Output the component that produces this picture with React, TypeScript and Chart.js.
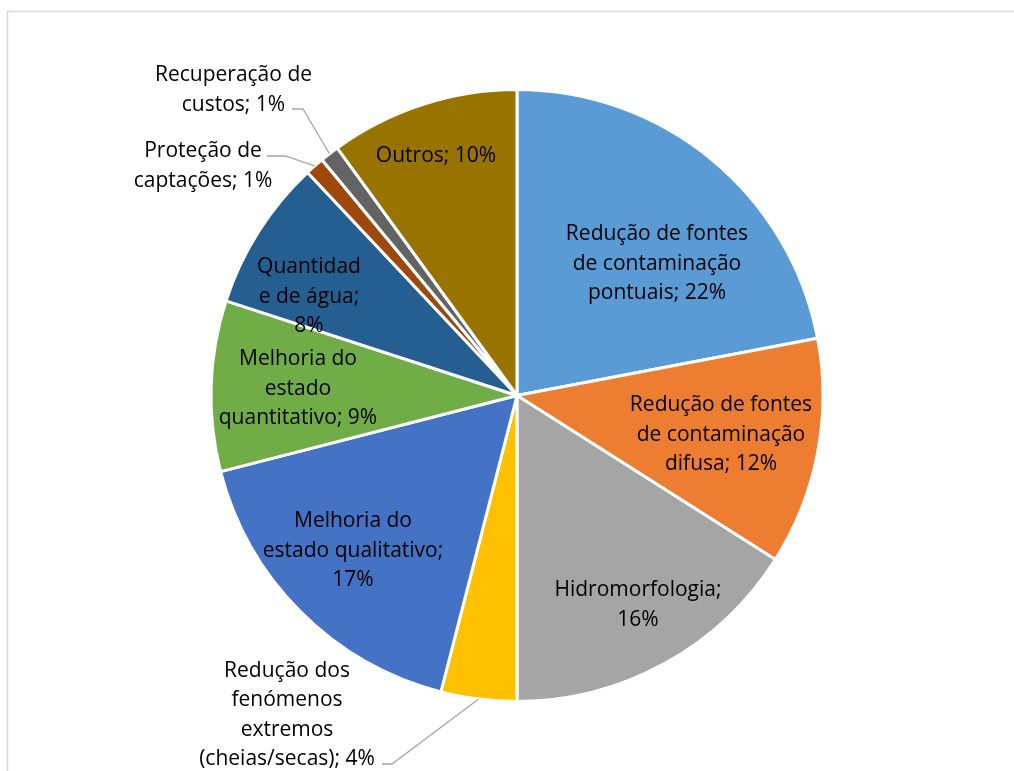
import React, { useEffect, useRef } from "react";
import { Chart, registerables } from "chart.js";

Chart.register(...registerables);

const categories: string[][] = [
  ["Redução de fontes", "de contaminação", "pontuais; 22%"],
  ["Redução de fontes", "de contaminação", "difusa; 12%"],
  ["Hidromorfologia;", "16%"],
  ["Redução dos", "fenómenos", "extremos", "(cheias/secas); 4%"],
  ["Melhoria do", "estado qualitativo;", "17%"],
  ["Melhoria do", "estado", "quantitativo; 9%"],
  ["Quantidad", "e de água;", "8%"],
  ["Proteção de", "captações; 1%"],
  ["Recuperação de", "custos; 1%"],
  ["Outros; 10%"],
];

const values: number[] = [22, 12, 16, 4, 17, 9, 8, 1, 1, 10];

const colors: string[] = [
  "#5B9BD5",
  "#ED7D31",
  "#A5A5A5",
  "#FFC000",
  "#4472C4",
  "#70AD47",
  "#255E91",
  "#9E480E",
  "#636363",
  "#997300",
];

// label block centre offsets from the pie centre
const labelOffsets: [number, number][] = [
  [140, -132.5],
  [204, 38.5],
  [121, 208.5],
  [-230, 318.5],
  [-164, 154.5],
  [-219, -7.5],
  [-208, -99.5],
  [-314, -230.5],
  [-283.5, -306.5],
  [-81, -240.5],
];

// leader line start + bend offsets (null = no leader)
const leaderOffsets: ([number, number, number] | null)[] = [
  null,
  null,
  null,
  [-135, -125, 368.5],
  null,
  null,
  null,
  [-250, -232, -239.5],
  [-225, -214, -286.5],
  null,
];

const FONT = '21px "Open Sans"';
const LINE_H = 29.5;

const labelPlugin = {
  id: "sliceLabels",
  afterDatasetsDraw(chart: any) {
    const ctx = chart.ctx;
    const meta = chart.getDatasetMeta(0);
    if (!meta.data.length) return;
    const a0 = meta.data[0];
    const cx = a0.x;
    const cy = a0.y;
    ctx.save();
    ctx.strokeStyle = "#A6A6A6";
    ctx.lineWidth = 1.3;
    meta.data.forEach((arc: any, i: number) => {
      const l = leaderOffsets[i];
      if (!l) return;
      const mid = (arc.startAngle + arc.endAngle) / 2;
      const r = arc.outerRadius;
      ctx.beginPath();
      ctx.moveTo(cx + l[0], cy + l[2]);
      ctx.lineTo(cx + l[1], cy + l[2]);
      ctx.lineTo(cx + Math.cos(mid) * r, cy + Math.sin(mid) * r);
      ctx.stroke();
    });
    ctx.fillStyle = "#000000";
    ctx.font = FONT;
    ctx.textAlign = "center";
    ctx.textBaseline = "middle";
    categories.forEach((lines, i) => {
      const [dx, dy] = labelOffsets[i];
      const n = lines.length;
      lines.forEach((t, j) => {
        const y = cy + dy + (j - (n - 1) / 2) * LINE_H;
        ctx.fillText(t, cx + dx, y + 1);
      });
    });
    ctx.restore();
  },
};

const framePlugin = {
  id: "frame",
  beforeDraw(chart: any) {
    const ctx = chart.ctx;
    ctx.save();
    ctx.fillStyle = "#ffffff";
    ctx.fillRect(0, 0, chart.width, chart.height);
    ctx.strokeStyle = "#D9D9D9";
    ctx.lineWidth = 1.5;
    ctx.strokeRect(7.5, 11.5, 3000, 3000);
    ctx.restore();
  },
};

export default function App() {
  const ref = useRef<HTMLCanvasElement | null>(null);
  useEffect(() => {
    if (!ref.current) return;
    const chart = new Chart(ref.current, {
      type: "pie",
      data: {
        labels: categories.map((c) => c.join(" ")),
        datasets: [
          {
            data: values,
            backgroundColor: colors,
            borderColor: "#ffffff",
            borderWidth: 3,
            radius: 306,
            hoverOffset: 0,
          } as any,
        ],
      },
      options: {
        responsive: false,
        animation: false,
        layout: { padding: { left: 20, top: 20, right: 0, bottom: 0 } },
        plugins: {
          legend: { display: false },
          tooltip: { enabled: false },
        },
      },
      plugins: [framePlugin, labelPlugin],
    });
    return () => chart.destroy();
  }, []);
  return (
    <div style={{ position: "absolute", left: 0, top: 0, width: 1014, height: 771 }}>
      <canvas ref={ref} width={1014} height={771} style={{ display: "block" }} />
    </div>
  );
}
